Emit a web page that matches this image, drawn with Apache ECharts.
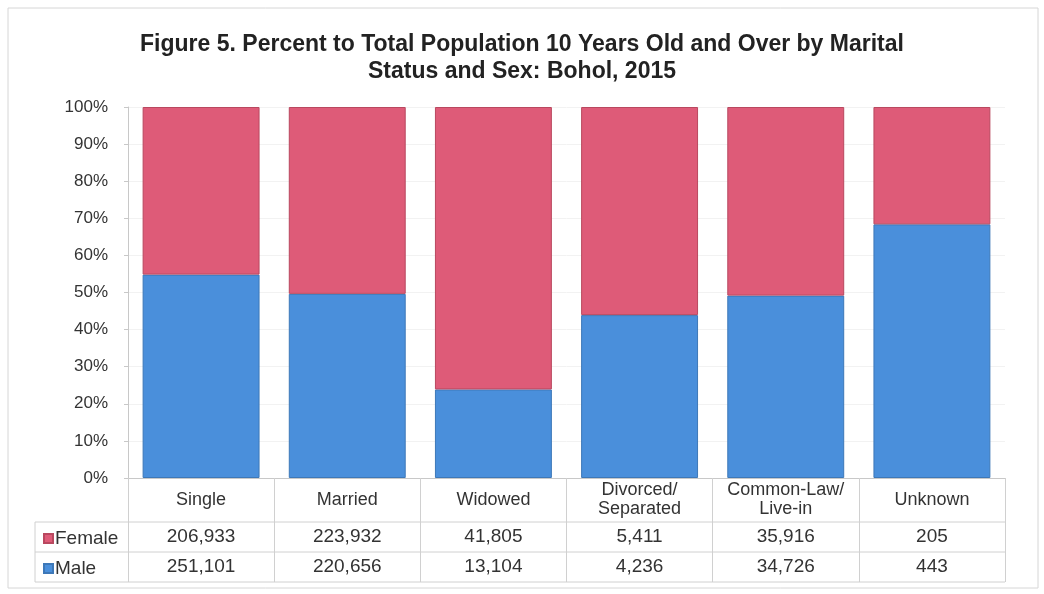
<!DOCTYPE html>
<html>
<head>
<meta charset="utf-8">
<script src="https://cdn.jsdelivr.net/npm/echarts@6/dist/echarts.min.js"></script>
<style>
  html, body { margin: 0; padding: 0; background: #fff; }
  #chart { width: 1044px; height: 594px; }
</style>
</head>
<body>
<div id="chart"></div>
<script>
// categories and raw counts (Bohol, 2015)
const categories = ['Single', 'Married', 'Widowed', 'Divorced/\nSeparated', 'Common-Law/\nLive-in', 'Unknown']
const female = [206933, 223932, 41805, 5411, 35916, 205]
const male = [251101, 220656, 13104, 4236, 34726, 443]

// percent to total by category
const malePct = male.map((v, i) => v / (v + female[i]) * 100)
const femalePct = female.map((v, i) => v / (v + male[i]) * 100)
const fmt = v => v.toLocaleString('en-US')

const FONT = '"Liberation Sans", Arial, sans-serif'
const chart = echarts.init(document.getElementById('chart'))

const hiddenAxis = (margin, labels) => ({
  type: 'category',
  gridIndex: 0,
  position: 'bottom',
  data: labels,
  axisLine: { show: false },
  axisTick: { show: false },
  axisLabel: {
    interval: 0, margin: margin, verticalAlign: 'middle',
    fontFamily: FONT, fontSize: 19, color: '#333'
  }
})

chart.setOption({
  animation: false,
  backgroundColor: '#fff',
  title: {
    text: 'Figure 5. Percent to Total Population 10 Years Old and Over by Marital\nStatus and Sex: Bohol, 2015',
    left: 'center',
    top: 31,
    padding: [0, 0, 0, 16],
    textStyle: { fontFamily: FONT, fontSize: 23, fontWeight: 'bold', color: '#222', lineHeight: 27 }
  },
  legend: {
    data: ['Female', 'Male'],
    orient: 'vertical',
    left: 38,
    top: 524,
    itemGap: 11,
    itemWidth: 9,
    itemHeight: 9,
    icon: 'rect',
    textStyle: { fontFamily: FONT, fontSize: 19, color: '#333', padding: [0, 0, 0, -3] }
  },
  grid: { left: 128, right: 39, top: 107, bottom: 116 },
  xAxis: [
    {
      type: 'category',
      data: categories,
      axisLine: { lineStyle: { color: '#c8c8c8' } },
      axisTick: { show: true, length: 104, interval: 0, lineStyle: { color: '#d0d0d0' } },
      axisLabel: {
        interval: 0, margin: 22, verticalAlign: 'middle',
        fontFamily: FONT, fontSize: 18, color: '#333', lineHeight: 19
      }
    },
    hiddenAxis(59, female.map(fmt)),
    hiddenAxis(89, male.map(fmt))
  ],
  yAxis: {
    type: 'value',
    min: 0,
    max: 100,
    interval: 10,
    axisLine: { show: true, lineStyle: { color: '#c8c8c8' } },
    axisTick: { show: true, length: 4, lineStyle: { color: '#c8c8c8' } },
    splitLine: { show: true, lineStyle: { color: '#f2f2f2' } },
    axisLabel: {
      formatter: '{value}%', margin: 20,
      fontFamily: FONT, fontSize: 17, color: '#333'
    }
  },
  graphic: [
    { type: 'rect', shape: { x: 8, y: 8, width: 1030, height: 580 }, style: { fill: 'none', stroke: '#d6d6d6', lineWidth: 1 } },
    { type: 'line', shape: { x1: 35, y1: 522, x2: 1005, y2: 522 }, style: { stroke: '#d0d0d0', lineWidth: 1 } },
    { type: 'line', shape: { x1: 35, y1: 552, x2: 1005, y2: 552 }, style: { stroke: '#d0d0d0', lineWidth: 1 } },
    { type: 'line', shape: { x1: 35, y1: 582, x2: 1005, y2: 582 }, style: { stroke: '#d0d0d0', lineWidth: 1 } },
    { type: 'line', shape: { x1: 35, y1: 522, x2: 35, y2: 582 }, style: { stroke: '#d0d0d0', lineWidth: 1 } }
  ],
  series: [
    {
      name: 'Male',
      type: 'bar',
      stack: 'total',
      barCategoryGap: '20%',
      data: malePct,
      itemStyle: { color: '#4a8fdb', borderColor: '#3d78b8', borderWidth: 1 }
    },
    {
      name: 'Female',
      type: 'bar',
      stack: 'total',
      barCategoryGap: '20%',
      data: femalePct,
      itemStyle: { color: '#de5b78', borderColor: '#b9485f', borderWidth: 1 }
    }
  ]
})
</script>
</body>
</html>
